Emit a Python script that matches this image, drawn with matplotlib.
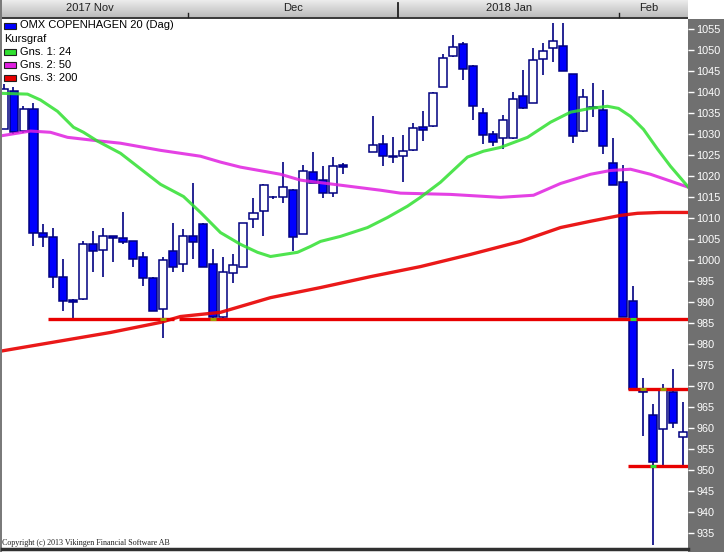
import numpy as np
import matplotlib
matplotlib.use("Agg")
import matplotlib.pyplot as plt
from matplotlib.patches import Rectangle

plt.rcParams['font.family'] = ['Liberation Sans', 'DejaVu Sans']

nan = np.nan

# daily candles, one slot per trading day (nan = holiday slot)
opens = [1031.1, 1040.2, 1030.7, 1035.9, 1006.3, 1005.4, 995.8, 990.4, 990.6, 1003.9,
         1002.3, 1005.6, 1005.1, 1004.4, 1000.6, 995.6, 988.2, 1002.0, 998.9, 1005.8,
         1008.5, 998.9, 986.5, 996.8, 998.4, 1009.7, 1011.6, 1015.0, 1014.9, 1016.6,
         1006.1, 1020.9, 1019.0, 1015.9, 1022.6, nan, nan, 1025.6, 1027.6, 1024.8,
         1024.7, 1026.1, 1031.6, 1031.9, 1041.2, 1048.6, 1051.4, 1046.2, 1035.0, 1029.9,
         1029.0, 1029.0, 1039.0, 1037.3, 1047.8, 1050.5, 1050.9, 1044.3, 1030.7, 1036.5,
         1035.7, 1023.0, 1018.5, 990.3, 969.1, 963.1, 959.8, 968.4, 957.9]
closes = [1040.7, 1030.4, 1035.9, 1006.3, 1005.4, 995.8, 990.1, 989.9, 1003.9, 1002.0,
          1005.6, 1005.1, 1004.2, 1000.3, 995.6, 987.9, 999.9, 998.4, 1005.8, 1004.2,
          998.4, 986.5, 997.0, 998.7, 1008.7, 1011.1, 1017.8, 1014.9, 1017.3, 1005.4,
          1021.1, 1018.2, 1015.9, 1022.3, 1022.1, nan, nan, 1027.3, 1024.7, 1024.5,
          1025.9, 1031.4, 1030.9, 1039.7, 1048.1, 1050.7, 1045.5, 1036.6, 1029.7, 1028.0,
          1033.3, 1038.3, 1036.1, 1047.6, 1049.7, 1052.1, 1045.0, 1029.5, 1038.8, 1036.3,
          1027.1, 1017.8, 986.3, 969.3, 968.4, 951.9, 969.1, 961.2, 959.1]
highs = [1041.9, 1041.2, 1036.6, 1037.3, 1008.5, 1007.7, 1000.3, 990.6, 1004.4, 1006.8,
         1007.5, 1005.8, 1011.3, 1004.6, 1001.8, 995.8, 1000.6, 1008.9, 1007.3, 1018.2,
         1008.7, 1002.7, 1000.8, 1001.3, 1008.9, 1014.7, 1018.0, 1015.3, 1023.3, 1016.8,
         1022.5, 1025.6, 1022.3, 1024.5, 1023.0, nan, nan, 1034.2, 1029.7, 1029.2,
         1029.7, 1032.6, 1035.4, 1040.0, 1049.0, 1053.6, 1051.9, 1046.4, 1036.1, 1030.7,
         1034.5, 1040.0, 1045.2, 1050.5, 1051.7, 1056.4, 1056.4, 1044.3, 1040.7, 1042.1,
         1040.4, 1029.0, 1022.5, 993.7, 971.9, 965.7, 970.5, 973.9, 966.2]
lows = [1031.1, 1030.0, 1030.2, 1003.2, 1003.0, 993.4, 987.7, 985.8, 990.4, 997.2,
        995.8, 999.4, 1003.7, 998.2, 993.7, 987.7, 981.3, 997.0, 997.0, 1000.1,
        998.2, 985.9, 985.9, 994.6, 998.2, 1007.7, 1005.6, 1014.5, 1013.5, 1002.0,
        1006.1, 1018.2, 1014.7, 1014.9, 1020.4, nan, nan, 1025.6, 1022.3, 1023.0,
        1018.5, 1025.9, 1028.3, 1031.7, 1041.2, 1048.3, 1042.8, 1033.3, 1027.6, 1027.1,
        1026.4, 1028.8, 1035.9, 1037.3, 1044.0, 1047.1, 1045.0, 1027.8, 1030.5, 1034.0,
        1025.2, 1017.8, 986.3, 969.3, 958.1, 932.1, 951.2, 960.0, 951.2]

# moving averages (day slot, value)
ma24_day = [-0.4, 2.4, 3.7, 5.4, 7.0, 8.0, 9.4, 11.7, 15.7, 18.0, 19.7, 21.7, 23.7, 25.4,
            26.7, 29.4, 30.7, 31.7, 33.7, 36.4, 38.4, 40.4, 41.7, 43.7, 46.4, 48.0, 49.7,
            52.4, 54.7, 56.7, 58.7, 60.4, 61.5, 62.7, 64.0, 65.4, 66.7, 68.5]
ma24 = [1039.7, 1039.5, 1038.1, 1035.4, 1031.6, 1030.4, 1028.3, 1025.4, 1018.0, 1015.1,
        1011.3, 1006.5, 1003.7, 1001.8, 1000.8, 1001.8, 1003.2, 1004.4, 1005.6, 1007.7,
        1010.1, 1012.8, 1014.9, 1018.5, 1024.5, 1025.9, 1026.8, 1029.2, 1032.8, 1035.2,
        1036.1, 1036.6, 1036.1, 1034.2, 1031.1, 1026.4, 1022.3, 1017.3]
ma50_day = [-0.4, 2.7, 4.7, 6.4, 9.7, 11.7, 15.7, 19.7, 21.7, 23.7, 27.7, 29.7, 33.7, 37.7,
            39.7, 44.7, 49.7, 53.0, 55.7, 58.7, 60.7, 62.7, 64.7, 68.5]
ma50 = [1029.5, 1030.7, 1030.4, 1029.2, 1028.3, 1027.8, 1026.1, 1024.7, 1023.3, 1022.1,
        1020.4, 1019.0, 1017.8, 1016.6, 1015.9, 1015.6, 1014.9, 1015.4, 1018.2, 1020.4,
        1021.3, 1021.6, 1020.4, 1017.3]
ma200_day = [-0.4, 10.7, 15.7, 17.7, 21.7, 26.7, 31.7, 36.7, 41.7, 46.7, 51.7, 55.7,
             58.7, 61.7, 63.4, 65.7, 68.5]
ma200 = [978.2, 982.7, 985.1, 986.5, 987.5, 991.0, 993.4, 996.0, 998.4, 1001.3, 1004.4,
         1007.7, 1009.2, 1010.6, 1011.1, 1011.3, 1011.3]

# drawn support / resistance lines
level_values = [985.9, 985.9, 969.2, 950.9]
level_start = [4.45, 17.6, 62.45, 62.45]
level_end = [17.1, 68.5, 68.5, 68.5]

# small handle marks where the drawn lines touch a candle
handle_days = [16, 21, 63, 64, 66, 65]
handle_values = [985.9, 985.9, 985.9, 969.2, 969.2, 950.9]
handle_colors = ['#9aa000', '#9aa000', '#30e030', '#9aa000', '#9aa000', '#30e030']

month_labels = ['2017 Nov', 'Dec', '2018 Jan', 'Feb']
month_centers = [90, 293, 509, 649]

W, H = 724, 552
fig = plt.figure(figsize=(W / 100, H / 100), dpi=100)

# background decorations in pixel coordinates
bg = fig.add_axes([0, 0, 1, 1], zorder=-1)
bg.set_xlim(0, W)
bg.set_ylim(H, 0)
bg.axis('off')
bg.add_patch(Rectangle((688, 19), 36, H - 19, color='#707070', lw=0))
grad = np.linspace(0, 1, 40).reshape(-1, 1)
bg.imshow(grad, cmap=matplotlib.colors.LinearSegmentedColormap.from_list('g', ['#ececec', '#bcbcbc']),
          extent=(0, 688, 17, 0), aspect='auto')
bg.add_patch(Rectangle((0, 17), 688, 2.5, color='#3c3c3c', lw=0))
bg.add_patch(Rectangle((0, 0), 2, H, color='#7a7a7a', lw=0))
bg.plot([188, 188], [13, 17], color='#202020', lw=1)
bg.plot([398, 398], [3, 17], color='#202020', lw=1.3)
bg.plot([619, 619], [13, 17], color='#202020', lw=1)
for lab, cx in zip(month_labels, month_centers):
    bg.text(cx, 8, lab, ha='center', va='center', fontsize=8, color='#202020')

# main price panel
ax = fig.add_axes([2 / W, 3 / H, 686 / W, 530 / H])
ax.set_xlim(-0.15, 68.45)
ax.set_ylim(931.1, 1057.4)
for s in ax.spines.values():
    s.set_visible(False)
ax.plot([-0.15, 68.45], [931.1, 931.1], color='#303030', lw=2.5, clip_on=False, zorder=6)

o = np.array(opens)
c = np.array(closes)
h = np.array(highs)
l = np.array(lows)
days = np.arange(len(o))
ok = ~np.isnan(o)
down = c < o

ax.vlines(days[ok], l[ok], h[ok], color='#000080', lw=1.2, zorder=2)
body_lo = np.minimum(o, c)
body_h = np.abs(c - o)
face = np.where(down, '#0000ff', 'white')
ax.bar(days[ok], body_h[ok], bottom=body_lo[ok], width=0.8, color=face[ok],
       edgecolor='#000080', linewidth=1.1, zorder=3)

ax.plot(ma200_day, ma200, color='#e80000', lw=2.4, zorder=4, alpha=0.9)
ax.plot(ma50_day, ma50, color='#e020e0', lw=2.2, zorder=4, alpha=0.85)
ax.plot(ma24_day, ma24, color='#30e030', lw=2.2, zorder=4, alpha=0.85)

for v, x0, x1 in zip(level_values, level_start, level_end):
    ax.plot([x0, x1], [v, v], color='#e80000', lw=2.4, zorder=5, solid_capstyle='butt')
for d, v, col in zip(handle_days, handle_values, handle_colors):
    ax.plot([d - 0.3, d + 0.3], [v, v], color=col, lw=2.2, zorder=5, solid_capstyle='butt')

ax.yaxis.tick_right()
ax.set_yticks(np.arange(935, 1056, 5))
ax.tick_params(axis='y', colors='white', length=4, width=1, pad=2, labelsize=7.8)
ax.set_xticks([])

# legend and footer
ov = fig.add_axes([0, 0, 1, 1], zorder=5)
ov.set_xlim(0, W)
ov.set_ylim(H, 0)
ov.axis('off')
legend_rows = [('OMX COPENHAGEN 20 (Dag)', '#0000ff'), ('Kursgraf', None),
               ('Gns. 1: 24', '#30e030'), ('Gns. 2: 50', '#e020e0'), ('Gns. 3: 200', '#e80000')]
for k, (txt, col) in enumerate(legend_rows):
    yc = 25.5 + k * 13.1
    if col is not None:
        ov.add_patch(Rectangle((4, yc - 3), 12, 6, facecolor=col, edgecolor='#202020', lw=0.8))
    ov.text(20 if col is not None else 4, yc, txt, ha='left', va='center', fontsize=8, color='black')
ov.text(2, 547, 'Copyright (c) 2013 Vikingen Financial Software AB', ha='left', va='bottom',
        fontsize=5.8, family='Liberation Serif', color='#202020')

fig.savefig('out.png', dpi=100)
